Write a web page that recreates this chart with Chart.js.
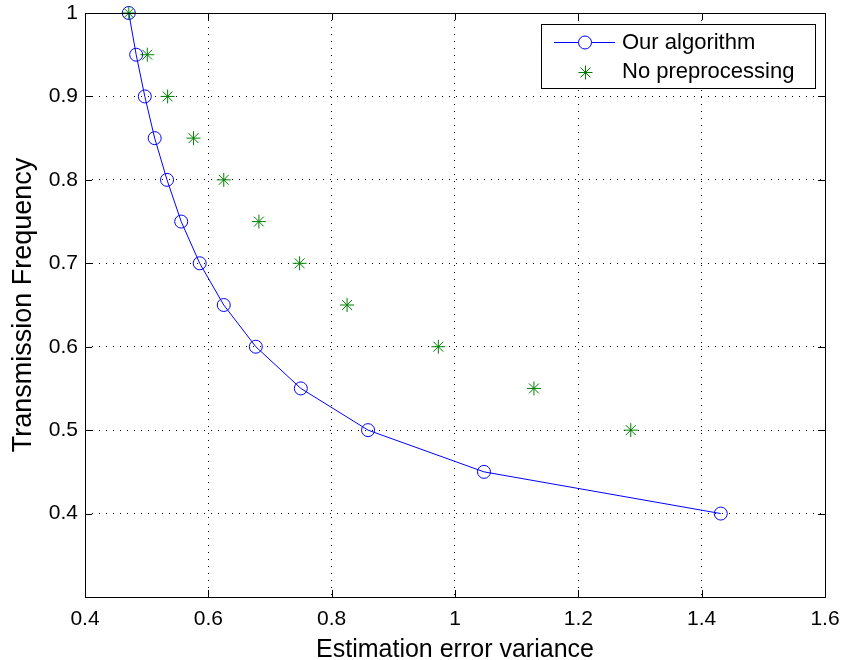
<!DOCTYPE html>
<html>
<head>
<meta charset="utf-8">
<script src="https://cdn.jsdelivr.net/npm/chart.js@4"></script>
<style>
  html, body { margin: 0; padding: 0; background: #fff; }
  #wrap { width: 845px; height: 660px; }
</style>
</head>
<body>
<div id="wrap"><canvas id="canvas" width="845" height="660"></canvas></div>
<script>
var FONT = "'Liberation Sans', Arial, Helvetica, sans-serif";

// transmission frequency levels (y)
var freq = [1.0, 0.95, 0.9, 0.85, 0.8, 0.75, 0.7, 0.65, 0.6, 0.55, 0.5, 0.45, 0.4];
// estimation error variance (x)
var ourAlgo = [0.471, 0.483, 0.497, 0.513, 0.533, 0.556, 0.586, 0.625, 0.677, 0.750, 0.859, 1.047, 1.431];
var noPrepFreq = [1.0, 0.95, 0.9, 0.85, 0.8, 0.75, 0.7, 0.65, 0.6, 0.55, 0.5];
var noPrep = [0.471, 0.501, 0.534, 0.576, 0.625, 0.682, 0.748, 0.825, 0.973, 1.128, 1.285];

var xTicks = [0.4, 0.6, 0.8, 1.0, 1.2, 1.4, 1.6];
var yTicks = [0.4, 0.5, 0.6, 0.7, 0.8, 0.9, 1.0];

function pts(xs, ys) {
  var out = [];
  for (var i = 0; i < xs.length; i++) out.push({x: xs[i], y: ys[i]});
  return out;
}

function fmt(v) {
  return String(Math.round(v * 10) / 10);
}

// box frame, inward ticks and legend, matlab style
var matlabBox = {
  id: 'matlabBox',
  afterDraw: function(chart) {
    var ctx = chart.ctx, a = chart.chartArea;
    var xs = chart.scales.x, ys = chart.scales.y;
    ctx.save();
    ctx.strokeStyle = '#000';
    ctx.lineWidth = 1;
    ctx.beginPath();
    xTicks.forEach(function(v) {
      var p = Math.round(xs.getPixelForValue(v)) + 0.5;
      ctx.moveTo(p, a.bottom); ctx.lineTo(p, a.bottom - 7);
      ctx.moveTo(p, a.top); ctx.lineTo(p, a.top + 7);
    });
    yTicks.forEach(function(v) {
      var p = Math.round(ys.getPixelForValue(v)) + 0.5;
      ctx.moveTo(a.left, p); ctx.lineTo(a.left + 7, p);
      ctx.moveTo(a.right, p); ctx.lineTo(a.right - 7, p);
    });
    ctx.stroke();
    ctx.strokeRect(Math.round(a.left) + 0.5, Math.round(a.top) + 0.5,
                   Math.round(a.right - a.left), Math.round(a.bottom - a.top));

    // legend
    var lx = 541.5, ly = 24.5, lw = 274, lh = 64;
    ctx.fillStyle = '#fff';
    ctx.fillRect(lx, ly, lw, lh);
    ctx.strokeRect(lx, ly, lw, lh);
    var ds = chart.data.datasets;
    ctx.font = '22px ' + FONT;
    ctx.textBaseline = 'middle';
    ctx.fillStyle = '#000';
    // row 1
    ctx.strokeStyle = ds[0].borderColor;
    ctx.beginPath();
    ctx.moveTo(554, 42.5); ctx.lineTo(615, 42.5);
    ctx.stroke();
    ctx.beginPath();
    ctx.arc(585, 42.5, 6.5, 0, Math.PI * 2);
    ctx.fillStyle = '#fff'; ctx.fill(); ctx.stroke();
    ctx.fillStyle = '#000';
    ctx.fillText(ds[0].label, 622, 43);
    // row 2
    ctx.strokeStyle = ds[1].borderColor;
    ctx.beginPath();
    var r = 7, cx = 585.5, cy = 72.5;
    for (var k = 0; k < 4; k++) {
      var ang = k * Math.PI / 4;
      ctx.moveTo(cx - r * Math.cos(ang), cy - r * Math.sin(ang));
      ctx.lineTo(cx + r * Math.cos(ang), cy + r * Math.sin(ang));
    }
    ctx.stroke();
    ctx.fillStyle = '#000';
    ctx.fillText(ds[1].label, 622, 72);
    ctx.restore();
  }
};

var config = {
  type: 'scatter',
  data: {
    datasets: [{
      label: 'Our algorithm',
      data: pts(ourAlgo, freq),
      showLine: true,
      borderColor: '#0000ff',
      backgroundColor: 'rgba(0,0,0,0)',
      borderWidth: 1,
      pointStyle: 'circle',
      pointRadius: 6.5,
      pointBorderWidth: 1,
      pointBorderColor: '#0000ff',
      pointBackgroundColor: 'rgba(0,0,0,0)',
      tension: 0,
      clip: false,
      order: 1
    }, {
      label: 'No preprocessing',
      data: pts(noPrep, noPrepFreq),
      showLine: false,
      borderColor: '#008000',
      backgroundColor: '#008000',
      pointStyle: 'star',
      pointRadius: 7,
      pointBorderWidth: 1,
      pointBorderColor: '#008000',
      clip: false,
      order: 0
    }]
  },
  options: {
    responsive: false,
    animation: false,
    layout: { padding: { top: 13, right: 20, left: 0, bottom: 0 } },
    plugins: {
      legend: { display: false },
      tooltip: { enabled: false }
    },
    scales: {
      x: {
        type: 'linear',
        min: 0.4, max: 1.6,
        afterBuildTicks: function(s) { s.ticks = xTicks.map(function(v) { return {value: v}; }); },
        afterFit: function(s) {
          s.height = 63;
          s.paddingLeft = 0; s.paddingRight = 0;
        },
        grid: { color: '#000', lineWidth: 1, drawTicks: false },
        border: { display: false, dash: [1, 6] },
        ticks: { color: '#000', font: { family: FONT, size: 21 }, padding: 10, maxRotation: 0,
                 callback: function(v) { return fmt(v); } },
        title: { display: true, text: 'Estimation error variance', color: '#000',
                 font: { family: FONT, size: 25, lineHeight: 1 }, padding: { top: 0, bottom: -3 } }
      },
      y: {
        type: 'linear',
        min: 0.3, max: 1.0,
        afterBuildTicks: function(s) { s.ticks = yTicks.map(function(v) { return {value: v}; }); },
        afterFit: function(s) {
          s.width = 85;
          s.paddingTop = 0; s.paddingBottom = 0;
        },
        grid: { color: '#000', lineWidth: 1, drawTicks: false },
        border: { display: false, dash: [1, 6] },
        ticks: { color: '#000', font: { family: FONT, size: 21 }, padding: 7,
                 callback: function(v) { return fmt(v); } },
        title: { display: true, text: 'Transmission Frequency', color: '#000',
                 font: { family: FONT, size: 27, lineHeight: 1 }, padding: { top: 10, bottom: 0 } }
      }
    }
  },
  plugins: [matlabBox]
};

window.onload = function() {
  window.myChart = new Chart(document.getElementById('canvas'), config);
};
</script>
</body>
</html>
